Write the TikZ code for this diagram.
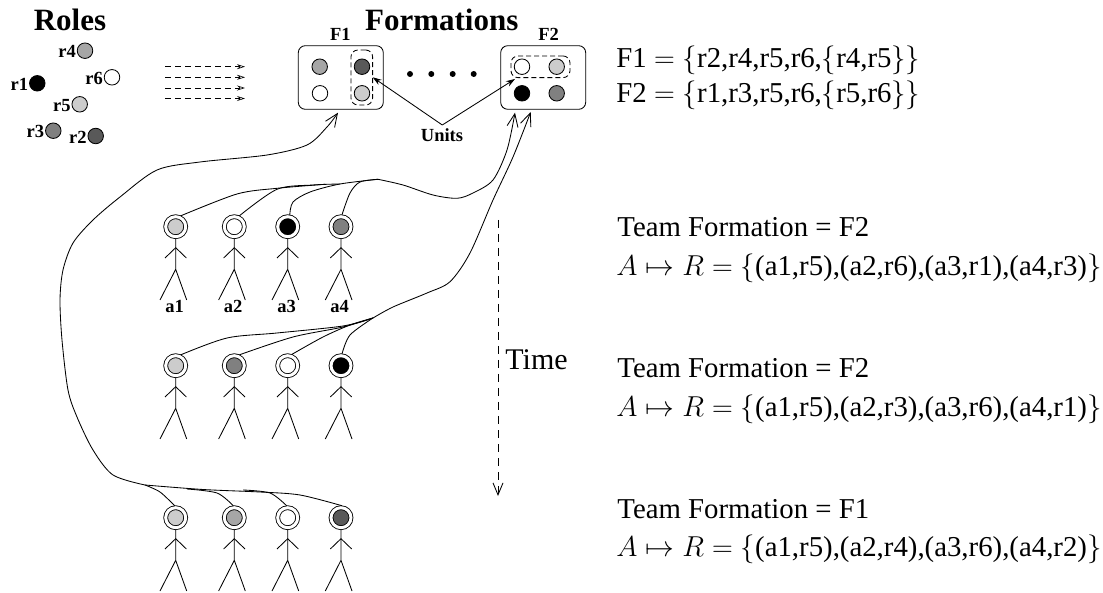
\documentclass[tikz,border=0pt]{standalone}
\usepackage{fix-cm}
\usepackage{fontspec}
\setmainfont{Liberation Serif}
\usetikzlibrary{arrows.meta}
\begin{document}
\begin{tikzpicture}[x=1pt,y=-1pt,line width=0.85pt,
role/.style={circle,draw,fill=#1,minimum size=15.5pt,inner sep=0pt},
agent/.style={circle,draw,fill=#1,minimum size=20pt,inner sep=0pt,outer sep=2pt,double,double distance=3pt},
formbox/.style={rectangle,draw,rounded corners=7pt,minimum width=85pt,minimum height=63.6pt},
unitbox/.style={rectangle,draw,dashed,dash pattern=on 5pt off 3pt,rounded corners=7pt,inner sep=0pt},
title/.style={font=\fontsize{31}{36}\bfseries\selectfont,inner sep=0pt},
label/.style={font=\fontsize{18.5}{22}\bfseries\selectfont,inner sep=0pt},
info/.style={font=\fontsize{28.8}{34}\selectfont,anchor=base west,inner sep=0pt},
dot/.style={circle,fill=black,minimum size=6pt,inner sep=0pt},
link/.style={smooth,tension=0.5},
toform/.style={-{Straight Barb[length=13pt,width=11pt]}},
flow/.style={dashed,dash pattern=on 6pt off 4pt,line width=0.6pt,-{Stealth[open,length=8pt,width=5pt]}}
]
\useasboundingbox (0,0) rectangle (1103,593);
% roles
\node[title] (roles) at (70,20) {Roles};
\node[role=black] (r1) at (37.3,83.3) {};
\node[role=black!65] (r2) at (95.7,136) {};
\node[role=black!50] (r3) at (53.3,130.7) {};
\node[role=black!35] (r4) at (85,50.7) {};
\node[role=black!20] (r5) at (79.7,104.3) {};
\node[role=white] (r6) at (112,77.3) {};
\foreach \n in {1,...,6}
\node[label,anchor=east,xshift=-0.5pt,yshift=-1pt] (lr\n) at (r\n.west) {r\n};
% flow to formations
\foreach \n/\y in {1/66.7,2/77.3,3/88,4/98.5}{
\coordinate (fs\n) at (165,\y);
\coordinate (fe\n) at (245,\y);
\draw[flow] (fs\n) -- (fe\n);
}
% formations
\node[title] (forms) at (441.7,20) {Formations};
\node[formbox] (F1) at (340.8,77.5) {};
\node[formbox] (F2) at (543.2,77.5) {};
\node[label] (lF1) at (340.3,34) {F1};
\node[label] (lF2) at (548.7,34) {F2};
\node[role=black!35] (f11) at (319.7,66.7) {};
\node[role=white] (f12) at (320,93.3) {};
\node[role=black!65] (f13) at (362,66.7) {};
\node[role=black!20] (f14) at (362,93.3) {};
\node[role=white] (f21) at (522,66.7) {};
\node[role=black!20] (f22) at (556.7,66.7) {};
\node[role=black] (f23) at (522,93.3) {};
\node[role=black!50] (f24) at (556.7,93.3) {};
\node[unitbox,minimum width=21.7pt,minimum height=55pt] (u1) at (361.8,77.5) {};
\node[unitbox,minimum width=59pt,minimum height=21.7pt] (u2) at (540.5,66.8) {};
\foreach \n/\x in {1/410,2/431.3,3/452.7,4/473.7}
\node[dot] (d\n) at (\x,74) {};
\node[label] (units) at (442,135) {Units};
\coordinate (uj) at (442.3,125);
\coordinate (ue1) at (372.7,77.3);
\coordinate (ue2) at (515,79);
\draw[-{Stealth[length=9pt,width=6pt]}] (uj) -- (ue1);
\draw[-{Stealth[length=9pt,width=6pt]}] (uj) -- (ue2);
% agents
\foreach \nm/\x/\y/\col in {
a1/175.7/226.7/black!20,a2/234.3/226.7/white,a3/287.7/226.7/black,a4/341/226.7/black!50,
b1/175.7/365.7/black!20,b2/234.3/365.7/black!50,b3/287.7/365.7/white,b4/341/365.7/black,
c1/175.7/517.7/black!20,c2/234.3/517.7/black!35,c3/287.7/517.7/white,c4/341/517.7/black!65}{
\node[agent=\col] (\nm) at (\x,\y) {};
\draw (\nm.south) -- ++(0,30.6) -- ++(-15.7,30.7) ++(15.7,-30.7) -- ++(11,30.7);
\draw (\nm.south) ++(-10.7,19.3) -- ++(10.7,-10.3) -- ++(10.7,10.3);
}
\foreach \n/\x in {1/174.5,2/233,3/286.5,4/339.5}
\node[label] (la\n) at (\x,306.5) {a\n};
% team one links
\coordinate (ja) at (378,179.3);
\coordinate (ea) at (515,112.7);
\draw plot[link] coordinates {(a1.65) (237,194) (277,188.3) (325,184.3)};
\draw plot[link] coordinates {(a2.65) (277,189.3) (313,185) (340,184)};
\draw plot[link] coordinates {(a3.80) (293,202) (310,192) (340,184) (ja)};
\draw plot[link] coordinates {(a4.85) (350,193) (360,182) (ja)};
\draw[toform] plot[link] coordinates {(ja) (403,185) (433,195) (457,198.3) (473,193) (493,180) (507,150) (ea)};
% team two links
\coordinate (jb) at (373,318);
\coordinate (eb) at (530.7,112);
\draw plot[link] coordinates {(b1.65) (227,338) (277,333) (343,326) (jb)};
\draw plot[link] coordinates {(b2.65) (293,337) (343,327) (jb)};
\draw plot[link] coordinates {(b3.70) (323,337) (350,325) (jb)};
\draw plot[link] coordinates {(b4.85) (350,335) (jb)};
\draw[toform] plot[link] coordinates {(jb) (393,307) (427,293) (450,281.7) (470,253) (493,200) (513,157) (eb)};
% team three links
\coordinate (jc) at (145,485);
\coordinate (ec) at (338,112.7);
\draw plot[link] coordinates {(c1.95) (160,492) (jc)};
\draw plot[link] coordinates {(c2.95) (217,493) (187,489)};
\draw plot[link] coordinates {(c3.95) (270,493) (243,490)};
\draw plot[link] coordinates {(c4.85) (300,495) (260,492) (203,489.5) (jc)};
\draw[toform] plot[link] coordinates {(jc) (113,475) (93,450) (77,417) (68,390) (62,340) (60,300) (63,270) (73,243) (93,220) (120,197) (157,170) (200,162) (267,155) (307,145) (327,127) (ec)};
% time
\coordinate (ts) at (498,220);
\coordinate (te) at (498,496);
\draw[dashed,dash pattern=on 8pt off 6pt,-{Straight Barb[length=12pt,width=10pt]}] (ts) -- (te);
\node[font=\fontsize{30}{34}\selectfont,anchor=base west,inner sep=0pt] (time) at (505,370) {Time};
% text
\node[info] (tf1) at (616,67.3) {F1 $=\{$r2,r4,r5,r6,$\{$r4,r5$\}\}$};
\node[info] (tf2) at (616,103) {F2 $=\{$r1,r3,r5,r6,$\{$r5,r6$\}\}$};
\node[info] (t1a) at (617,237) {Team Formation = F2};
\node[info] (t1b) at (616,275.5) {$A\mapsto R=\{$(a1,r5),(a2,r6),(a3,r1),(a4,r3)$\}$};
\node[info] (t2a) at (617,378) {Team Formation = F2};
\node[info] (t2b) at (616,416.7) {$A\mapsto R=\{$(a1,r5),(a2,r3),(a3,r6),(a4,r1)$\}$};
\node[info] (t3a) at (617,518.3) {Team Formation = F1};
\node[info] (t3b) at (616,556.7) {$A\mapsto R=\{$(a1,r5),(a2,r4),(a3,r6),(a4,r2)$\}$};
\end{tikzpicture}
\end{document}
